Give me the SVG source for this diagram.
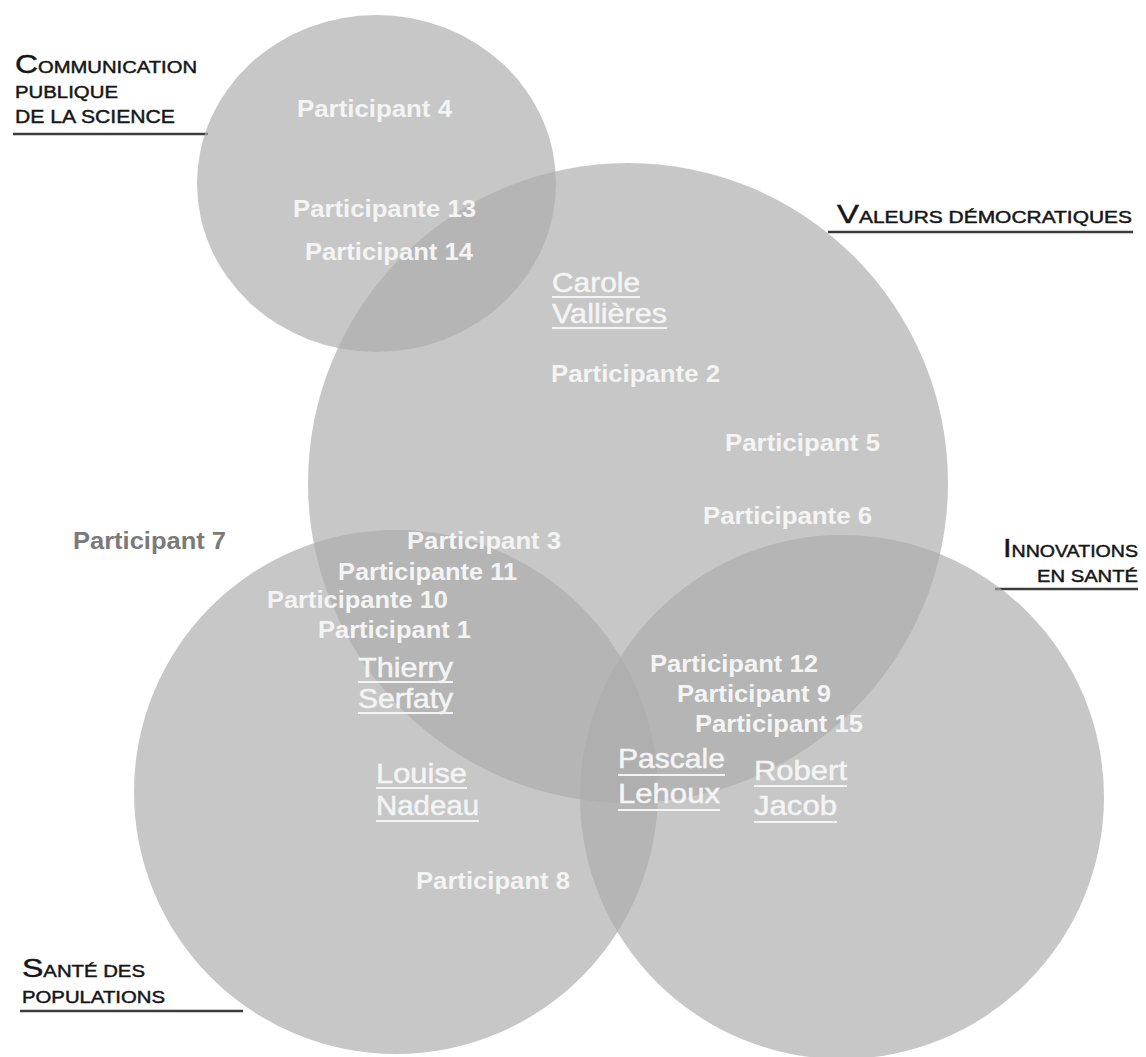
<svg xmlns="http://www.w3.org/2000/svg" width="1146" height="1057" viewBox="0 0 1146 1057">
  <style>
    .set { fill: #acacac; fill-opacity: 0.68; }
    .lead { stroke: #3c3c3c; stroke-width: 2.5; }
    .cap { font-family: "Liberation Sans", Arial, sans-serif; fill: #161616; stroke: #161616; stroke-width: 0.45; font-size: 16.5px; }
    .cap .big { font-size: 26px; }
    .cap.tall { font-size: 19px; }
    .who { font-family: "Liberation Sans", Arial, sans-serif; font-weight: bold; font-size: 24px; fill: #f4f4f4; }
    .who.out { fill: #7a7a7a; }
    .name { font-family: "Liberation Sans", Arial, sans-serif; font-size: 28px; fill: #f4f4f4; stroke: #f4f4f4; stroke-width: 0.5; }
    .ul { stroke: #f4f4f4; stroke-width: 2.2; }
  </style>

  <rect width="1146" height="1057" fill="#ffffff"/>

  <!-- leader lines under the category titles -->
  <g id="leaders">
    <line class="lead" x1="13" y1="134" x2="208" y2="134"/>
    <line class="lead" x1="828" y1="232" x2="1133" y2="232"/>
    <line class="lead" x1="995" y1="589" x2="1138" y2="589"/>
    <line class="lead" x1="20" y1="1011" x2="243" y2="1011"/>
  </g>

  <!-- the four overlapping sets -->
  <g id="set-communication"><ellipse class="set" cx="376.5" cy="183.5" rx="179.5" ry="168.5"/></g>
  <g id="set-valeurs"><circle class="set" cx="628" cy="483" r="320"/></g>
  <g id="set-sante"><circle class="set" cx="396" cy="792" r="262"/></g>
  <g id="set-innovations"><circle class="set" cx="842" cy="797" r="262"/></g>

  <!-- category titles -->
  <g id="title-communication">
    <text class="cap" x="15" y="73" textLength="182" lengthAdjust="spacingAndGlyphs"><tspan class="big">C</tspan>OMMUNICATION</text>
    <text class="cap" x="15" y="98" textLength="103" lengthAdjust="spacingAndGlyphs">PUBLIQUE</text>
    <text class="cap tall" x="15" y="123" textLength="160" lengthAdjust="spacingAndGlyphs">DE LA SCIENCE</text>
  </g>
  <g id="title-valeurs">
    <text class="cap" x="837" y="223" textLength="295" lengthAdjust="spacingAndGlyphs"><tspan class="big">V</tspan>ALEURS DÉMOCRATIQUES</text>
  </g>
  <g id="title-innovations">
    <text class="cap" x="1003" y="557" textLength="135" lengthAdjust="spacingAndGlyphs"><tspan class="big">I</tspan>NNOVATIONS</text>
    <text class="cap" x="1037" y="582" textLength="101" lengthAdjust="spacingAndGlyphs">EN SANTÉ</text>
  </g>
  <g id="title-sante">
    <text class="cap" x="22" y="977" textLength="123" lengthAdjust="spacingAndGlyphs"><tspan class="big">S</tspan>ANTÉ DES</text>
    <text class="cap" x="22" y="1003" textLength="143" lengthAdjust="spacingAndGlyphs">POPULATIONS</text>
  </g>

  <!-- participants -->
  <g id="participants">
    <text class="who" x="297" y="117" textLength="155" lengthAdjust="spacingAndGlyphs">Participant 4</text>
    <text class="who" x="293" y="217" textLength="183" lengthAdjust="spacingAndGlyphs">Participante 13</text>
    <text class="who" x="305" y="260" textLength="168" lengthAdjust="spacingAndGlyphs">Participant 14</text>
    <text class="who" x="551" y="382" textLength="169" lengthAdjust="spacingAndGlyphs">Participante 2</text>
    <text class="who" x="725" y="451" textLength="155" lengthAdjust="spacingAndGlyphs">Participant 5</text>
    <text class="who" x="703" y="524" textLength="169" lengthAdjust="spacingAndGlyphs">Participante 6</text>
    <text class="who out" x="73" y="549" textLength="153" lengthAdjust="spacingAndGlyphs">Participant 7</text>
    <text class="who" x="407" y="549" textLength="154" lengthAdjust="spacingAndGlyphs">Participant 3</text>
    <text class="who" x="338" y="580" textLength="179" lengthAdjust="spacingAndGlyphs">Participante 11</text>
    <text class="who" x="267" y="608" textLength="181" lengthAdjust="spacingAndGlyphs">Participante 10</text>
    <text class="who" x="318" y="638" textLength="153" lengthAdjust="spacingAndGlyphs">Participant 1</text>
    <text class="who" x="650" y="672" textLength="168" lengthAdjust="spacingAndGlyphs">Participant 12</text>
    <text class="who" x="677" y="702" textLength="154" lengthAdjust="spacingAndGlyphs">Participant 9</text>
    <text class="who" x="695" y="732" textLength="168" lengthAdjust="spacingAndGlyphs">Participant 15</text>
    <text class="who" x="416" y="889" textLength="154" lengthAdjust="spacingAndGlyphs">Participant 8</text>
  </g>

  <!-- underlined researcher names -->
  <g id="researchers">
    <text class="name" x="552" y="292" textLength="88" lengthAdjust="spacingAndGlyphs">Carole</text>
    <line class="ul" x1="552" y1="297" x2="640" y2="297"/>
    <text class="name" x="552" y="323" textLength="115" lengthAdjust="spacingAndGlyphs">Vallières</text>
    <line class="ul" x1="552" y1="328" x2="667" y2="328"/>

    <text class="name" x="358" y="677" textLength="95" lengthAdjust="spacingAndGlyphs">Thierry</text>
    <line class="ul" x1="358" y1="682" x2="453" y2="682"/>
    <text class="name" x="358" y="708" textLength="95" lengthAdjust="spacingAndGlyphs">Serfaty</text>
    <line class="ul" x1="358" y1="713" x2="453" y2="713"/>

    <text class="name" x="376" y="783" textLength="91" lengthAdjust="spacingAndGlyphs">Louise</text>
    <line class="ul" x1="376" y1="788" x2="467" y2="788"/>
    <text class="name" x="376" y="815" textLength="103" lengthAdjust="spacingAndGlyphs">Nadeau</text>
    <line class="ul" x1="376" y1="821" x2="479" y2="821"/>

    <text class="name" x="618" y="768" textLength="107" lengthAdjust="spacingAndGlyphs">Pascale</text>
    <line class="ul" x1="618" y1="775" x2="725" y2="775"/>
    <text class="name" x="618" y="803" textLength="102" lengthAdjust="spacingAndGlyphs">Lehoux</text>
    <line class="ul" x1="618" y1="810" x2="720" y2="810"/>

    <text class="name" x="754" y="780" textLength="93" lengthAdjust="spacingAndGlyphs">Robert</text>
    <line class="ul" x1="754" y1="786" x2="847" y2="786"/>
    <text class="name" x="754" y="815" textLength="83" lengthAdjust="spacingAndGlyphs">Jacob</text>
    <line class="ul" x1="754" y1="822" x2="837" y2="822"/>
  </g>
</svg>
